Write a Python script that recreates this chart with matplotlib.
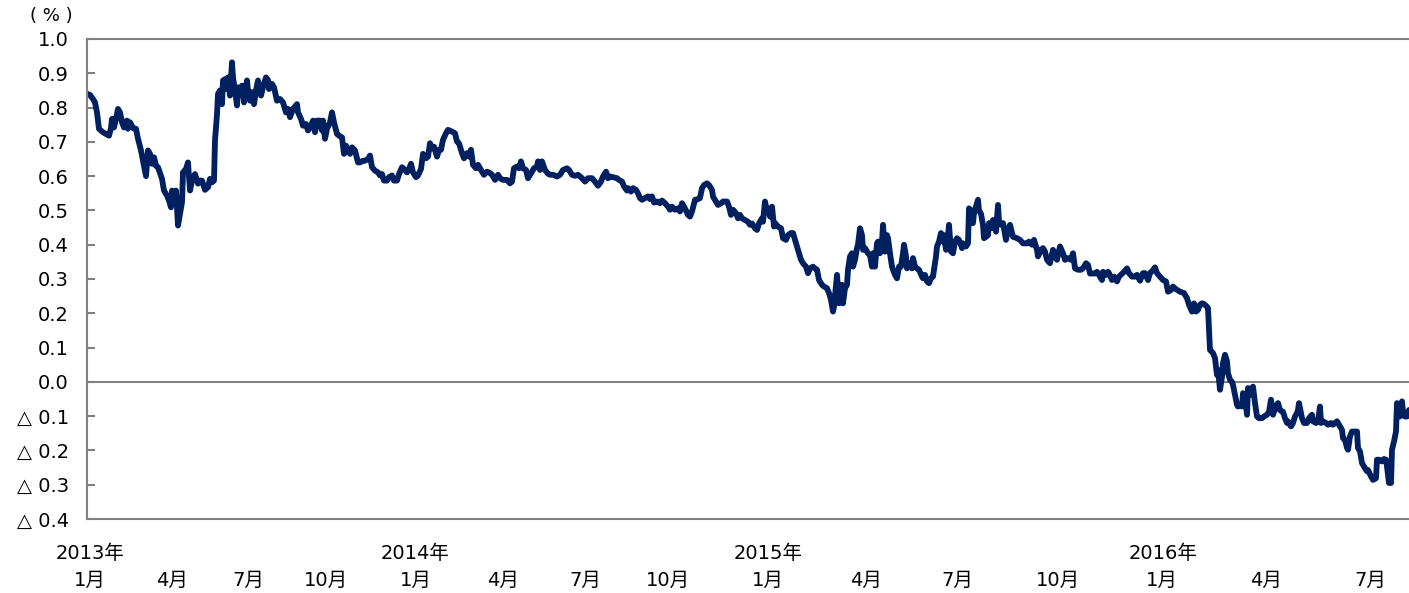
import matplotlib
matplotlib.use("Agg")
import matplotlib.pyplot as plt
from matplotlib.ticker import FuncFormatter, MultipleLocator

plt.rcParams['font.family'] = ['DejaVu Sans', 'Noto Sans CJK JP']

# 経過日数と長期金利（%）
days = [
    0, 3, 6, 8, 10, 12, 14, 16, 19, 22, 24, 25, 27, 29, 31, 33, 35, 37, 40, 41,
    43, 46, 49, 51, 54, 56, 59, 61, 63, 65, 67, 69, 71, 75, 77, 80, 82, 84, 85, 87,
    89, 91, 93, 95, 96, 99, 101, 103, 105, 108, 111, 113, 115, 118, 121, 123, 125, 127, 128, 130,
    131, 133, 135, 136, 138, 140, 141, 143, 145, 146, 148, 150, 151, 153, 155, 157, 160, 161, 163, 165,
    167, 169, 171, 174, 176, 179, 181, 182, 185, 187, 190, 193, 196, 199, 201, 203, 206, 210, 211, 214,
    216, 219, 221, 224, 226, 228, 230, 233, 235, 236, 238, 240, 243, 245, 247, 250, 252, 255, 257, 259,
    261, 263, 265, 268, 271, 273, 276, 278, 281, 283, 285, 288, 291, 293, 295, 297, 300, 302, 305, 307,
    310, 312, 315, 317, 320, 322, 324, 326, 329, 331, 334, 336, 339, 341, 343, 345, 347, 350, 352, 354,
    356, 359, 361, 365, 368, 370, 372, 375, 377, 380, 382, 384, 386, 389, 391, 395, 397, 400, 403, 405,
    408, 411, 413, 416, 420, 423, 425, 427, 430, 432, 434, 436, 439, 441, 443, 445, 447, 450, 451, 453,
    455, 458, 461, 463, 466, 470, 473, 476, 480, 482, 485, 488, 491, 495, 498, 501, 505, 508, 511, 514,
    516, 519, 521, 523, 526, 530, 532, 535, 537, 540, 541, 544, 546, 549, 551, 553, 555, 558, 561, 563,
    565, 567, 570, 573, 575, 578, 581, 583, 585, 588, 591, 593, 595, 598, 601, 603, 605, 608, 611, 613,
    615, 617, 620, 622, 625, 626, 629, 631, 634, 636, 640, 642, 644, 646, 649, 651, 653, 655, 658, 661,
    663, 665, 668, 670, 672, 675, 676, 678, 680, 681, 683, 685, 687, 688, 691, 694, 696, 699, 701, 704,
    706, 709, 711, 714, 716, 719, 721, 723, 726, 728, 730, 732, 735, 737, 740, 742, 744, 746, 747, 749,
    750, 752, 754, 755, 756, 758, 760, 761, 763, 765, 766, 768, 770, 771, 773, 775, 776, 778, 780, 781,
    783, 785, 786, 788, 790, 791, 793, 795, 796, 798, 800, 801, 803, 805, 806, 808, 810, 812, 814, 816,
    817, 819, 820, 822, 825, 826, 828, 830, 832, 835, 836, 838, 840, 842, 844, 846, 847, 849, 850, 852,
    854, 856, 857, 859, 861, 862, 864, 866, 868, 870, 872, 875, 876, 879, 881, 882, 884, 886, 887, 889,
    891, 892, 894, 896, 897, 899, 901, 902, 904, 906, 907, 909, 911, 912, 914, 916, 917, 919, 921, 923,
    925, 926, 930, 933, 936, 940, 942, 945, 947, 950, 951, 954, 956, 958, 960, 963, 966, 968, 970, 973,
    976, 978, 981, 984, 986, 988, 991, 994, 996, 999, 1001, 1003, 1006, 1008, 1010, 1013, 1015, 1016, 1019, 1021,
    1022, 1025, 1027, 1030, 1032, 1036, 1040, 1042, 1045, 1048, 1050, 1053, 1056, 1058, 1061, 1063, 1066, 1068, 1070, 1073,
    1076, 1079, 1081, 1084, 1086, 1089, 1093, 1097, 1100, 1102, 1105, 1107, 1109, 1111, 1113, 1115, 1117, 1120, 1121, 1122,
    1123, 1126, 1128, 1130, 1131, 1133, 1135, 1136, 1138, 1140, 1141, 1143, 1145, 1146, 1148, 1150, 1151, 1153, 1155, 1156,
    1158, 1160, 1161, 1163, 1165, 1166, 1168, 1170, 1172, 1175, 1177, 1180, 1182, 1184, 1186, 1187, 1190, 1191, 1193, 1195,
    1196, 1198, 1200, 1201, 1204, 1206, 1208, 1210, 1211, 1212, 1214, 1215, 1217, 1220, 1222, 1225, 1226, 1229, 1231, 1233,
    1234, 1236, 1239, 1241, 1244, 1246, 1250, 1252, 1255, 1256, 1258, 1260, 1261, 1263, 1265, 1267, 1270, 1271, 1273, 1275,
    1276, 1278, 1280, 1281, 1284, 1286, 1289, 1290, 1292, 1295, 1297, 1299, 1300, 1302, 1304, 1305, 1307, 1309, 1310, 1311,
    1313, 1315, 1316, 1318, 1320, 1322,
]
yields = [
    0.840, 0.837, 0.825, 0.815, 0.786, 0.738, 0.733, 0.728, 0.723, 0.718, 0.740, 0.767, 0.742, 0.767, 0.796, 0.786, 0.757, 0.742, 0.762, 0.738,
    0.757, 0.740, 0.738, 0.709, 0.675, 0.645, 0.600, 0.675, 0.665, 0.636, 0.655, 0.630, 0.626, 0.592, 0.558, 0.543, 0.529, 0.509, 0.558, 0.538,
    0.558, 0.456, 0.490, 0.524, 0.611, 0.621, 0.640, 0.558, 0.587, 0.606, 0.578, 0.587, 0.587, 0.560, 0.568, 0.592, 0.582, 0.587, 0.704, 0.780,
    0.840, 0.850, 0.810, 0.879, 0.883, 0.854, 0.888, 0.835, 0.932, 0.888, 0.850, 0.806, 0.859, 0.845, 0.864, 0.815, 0.879, 0.850, 0.820, 0.845,
    0.810, 0.850, 0.879, 0.835, 0.859, 0.888, 0.880, 0.854, 0.869, 0.859, 0.820, 0.825, 0.815, 0.786, 0.796, 0.772, 0.796, 0.810, 0.786, 0.767,
    0.747, 0.752, 0.733, 0.747, 0.762, 0.728, 0.762, 0.762, 0.733, 0.762, 0.709, 0.738, 0.757, 0.786, 0.757, 0.723, 0.718, 0.713, 0.665, 0.689,
    0.675, 0.665, 0.684, 0.675, 0.640, 0.640, 0.645, 0.645, 0.650, 0.660, 0.626, 0.616, 0.611, 0.602, 0.606, 0.587, 0.587, 0.597, 0.602, 0.587,
    0.587, 0.606, 0.626, 0.621, 0.611, 0.621, 0.636, 0.611, 0.597, 0.602, 0.621, 0.665, 0.652, 0.657, 0.696, 0.681, 0.686, 0.657, 0.677, 0.677,
    0.706, 0.725, 0.735, 0.730, 0.725, 0.701, 0.696, 0.667, 0.652, 0.667, 0.657, 0.677, 0.633, 0.623, 0.633, 0.613, 0.604, 0.613, 0.609, 0.604,
    0.589, 0.604, 0.594, 0.589, 0.589, 0.579, 0.584, 0.623, 0.628, 0.623, 0.643, 0.623, 0.618, 0.594, 0.604, 0.613, 0.623, 0.628, 0.643, 0.618,
    0.643, 0.618, 0.607, 0.604, 0.604, 0.599, 0.604, 0.618, 0.623, 0.618, 0.604, 0.601, 0.604, 0.594, 0.584, 0.594, 0.594, 0.584, 0.572, 0.584,
    0.599, 0.613, 0.594, 0.599, 0.597, 0.594, 0.589, 0.584, 0.570, 0.558, 0.565, 0.555, 0.565, 0.560, 0.550, 0.536, 0.531, 0.536, 0.541, 0.533,
    0.541, 0.523, 0.526, 0.521, 0.529, 0.521, 0.511, 0.502, 0.511, 0.502, 0.506, 0.497, 0.521, 0.506, 0.487, 0.482, 0.497, 0.531, 0.533, 0.536,
    0.565, 0.574, 0.579, 0.574, 0.560, 0.540, 0.526, 0.516, 0.521, 0.526, 0.526, 0.511, 0.487, 0.502, 0.492, 0.477, 0.487, 0.477, 0.472, 0.467,
    0.458, 0.462, 0.448, 0.443, 0.462, 0.477, 0.467, 0.526, 0.497, 0.506, 0.482, 0.511, 0.453, 0.463, 0.453, 0.448, 0.419, 0.414, 0.428, 0.434,
    0.434, 0.404, 0.385, 0.356, 0.346, 0.336, 0.317, 0.331, 0.336, 0.331, 0.327, 0.297, 0.283, 0.278, 0.273, 0.259, 0.239, 0.205, 0.220, 0.283,
    0.312, 0.229, 0.259, 0.283, 0.229, 0.273, 0.283, 0.327, 0.366, 0.375, 0.336, 0.356, 0.390, 0.400, 0.448, 0.428, 0.385, 0.390, 0.380, 0.375,
    0.370, 0.336, 0.375, 0.336, 0.404, 0.409, 0.375, 0.409, 0.458, 0.380, 0.428, 0.419, 0.375, 0.336, 0.327, 0.312, 0.302, 0.336, 0.336, 0.375,
    0.400, 0.366, 0.331, 0.346, 0.331, 0.361, 0.336, 0.331, 0.327, 0.307, 0.302, 0.312, 0.293, 0.288, 0.302, 0.307, 0.327, 0.366, 0.395, 0.409,
    0.434, 0.409, 0.428, 0.385, 0.423, 0.458, 0.380, 0.375, 0.409, 0.419, 0.414, 0.390, 0.404, 0.395, 0.404, 0.506, 0.500, 0.463, 0.492, 0.511,
    0.531, 0.500, 0.490, 0.458, 0.419, 0.423, 0.428, 0.463, 0.448, 0.472, 0.463, 0.438, 0.516, 0.468, 0.458, 0.463, 0.448, 0.414, 0.443, 0.458,
    0.434, 0.423, 0.419, 0.414, 0.404, 0.404, 0.409, 0.400, 0.414, 0.385, 0.366, 0.385, 0.390, 0.380, 0.356, 0.346, 0.385, 0.370, 0.356, 0.395,
    0.375, 0.356, 0.361, 0.356, 0.375, 0.331, 0.327, 0.327, 0.331, 0.346, 0.341, 0.316, 0.316, 0.316, 0.321, 0.307, 0.297, 0.321, 0.312, 0.321,
    0.317, 0.297, 0.307, 0.293, 0.307, 0.318, 0.331, 0.317, 0.307, 0.307, 0.312, 0.295, 0.317, 0.317, 0.297, 0.317, 0.326, 0.334, 0.317, 0.307,
    0.297, 0.293, 0.263, 0.268, 0.278, 0.270, 0.263, 0.259, 0.244, 0.225, 0.205, 0.229, 0.205, 0.210, 0.225, 0.229, 0.227, 0.219, 0.215, 0.152,
    0.093, 0.084, 0.069, 0.020, 0.035, -0.023, 0.015, 0.055, 0.079, 0.060, 0.025, 0.006, 0.000, -0.009, -0.038, -0.067, -0.072, -0.067, -0.072, -0.033,
    -0.043, -0.096, -0.018, -0.038, -0.018, -0.014, -0.062, -0.101, -0.106, -0.106, -0.101, -0.096, -0.087, -0.052, -0.096, -0.087, -0.067, -0.062, -0.082, -0.087,
    -0.087, -0.106, -0.120, -0.115, -0.130, -0.120, -0.101, -0.091, -0.082, -0.062, -0.091, -0.106, -0.120, -0.120, -0.106, -0.096, -0.115, -0.120, -0.115, -0.072,
    -0.120, -0.115, -0.120, -0.125, -0.120, -0.125, -0.115, -0.125, -0.140, -0.164, -0.169, -0.193, -0.198, -0.159, -0.145, -0.145, -0.145, -0.193, -0.203, -0.237,
    -0.242, -0.252, -0.261, -0.257, -0.276, -0.286, -0.281, -0.227, -0.227, -0.232, -0.225, -0.227, -0.247, -0.295, -0.295, -0.198, -0.174, -0.145, -0.062, -0.096,
    -0.101, -0.057, -0.087, -0.101, -0.101, -0.082,
]

# 目盛りラベル（位置は経過日数）
month_pos = [3, 85, 161, 239, 329, 416, 498, 581, 681, 779, 870, 971, 1075, 1179, 1283]
month_labels = ['1月', '4月', '7月', '10月', '1月', '4月', '7月', '10月',
                '1月', '4月', '7月', '10月', '1月', '4月', '7月']
year_pos = [3, 328, 681, 1076]
year_labels = ['2013年', '2014年', '2015年', '2016年']

line_color = '#002060'
axis_color = '#808080'

fig = plt.figure(figsize=(14.09, 5.93), dpi=100)
ax = fig.add_axes([87 / 1409, 1 - 519 / 593, 1 - 87 / 1409, 480 / 593])

ax.plot(days, yields, color=line_color, lw=4.2, solid_joinstyle='round', solid_capstyle='round')
ax.axhline(0, color=axis_color, lw=1.5, zorder=1)

ax.set_xlim(0, 1322)
ax.set_ylim(-0.4, 1.0)
ax.yaxis.set_major_locator(MultipleLocator(0.1))


def fmt(v, pos):
    v = round(v, 1)
    if v < 0:
        return '△ {:.1f}'.format(-v)
    return '{:.1f}'.format(v)


ax.yaxis.set_major_formatter(FuncFormatter(fmt))
ax.tick_params(axis='y', direction='in', length=6, width=1.5, color=axis_color,
               labelsize=14, pad=13)
ax.set_xticks([])

for side in ['left', 'top', 'bottom']:
    ax.spines[side].set_color(axis_color)
    ax.spines[side].set_linewidth(1.5)
ax.spines['right'].set_visible(False)

tr = ax.get_xaxis_transform()
for p, lab in zip(month_pos, month_labels):
    ax.text(p, -0.127, lab, transform=tr, ha='center', va='center', fontsize=14)
for p, lab in zip(year_pos, year_labels):
    ax.text(p, -0.071, lab, transform=tr, ha='center', va='center', fontsize=14)

# 単位
fig.text(51 / 1409, 1 - 16 / 593, '( % )', ha='center', va='center', fontsize=13)

fig.savefig('out.png', dpi=100)
